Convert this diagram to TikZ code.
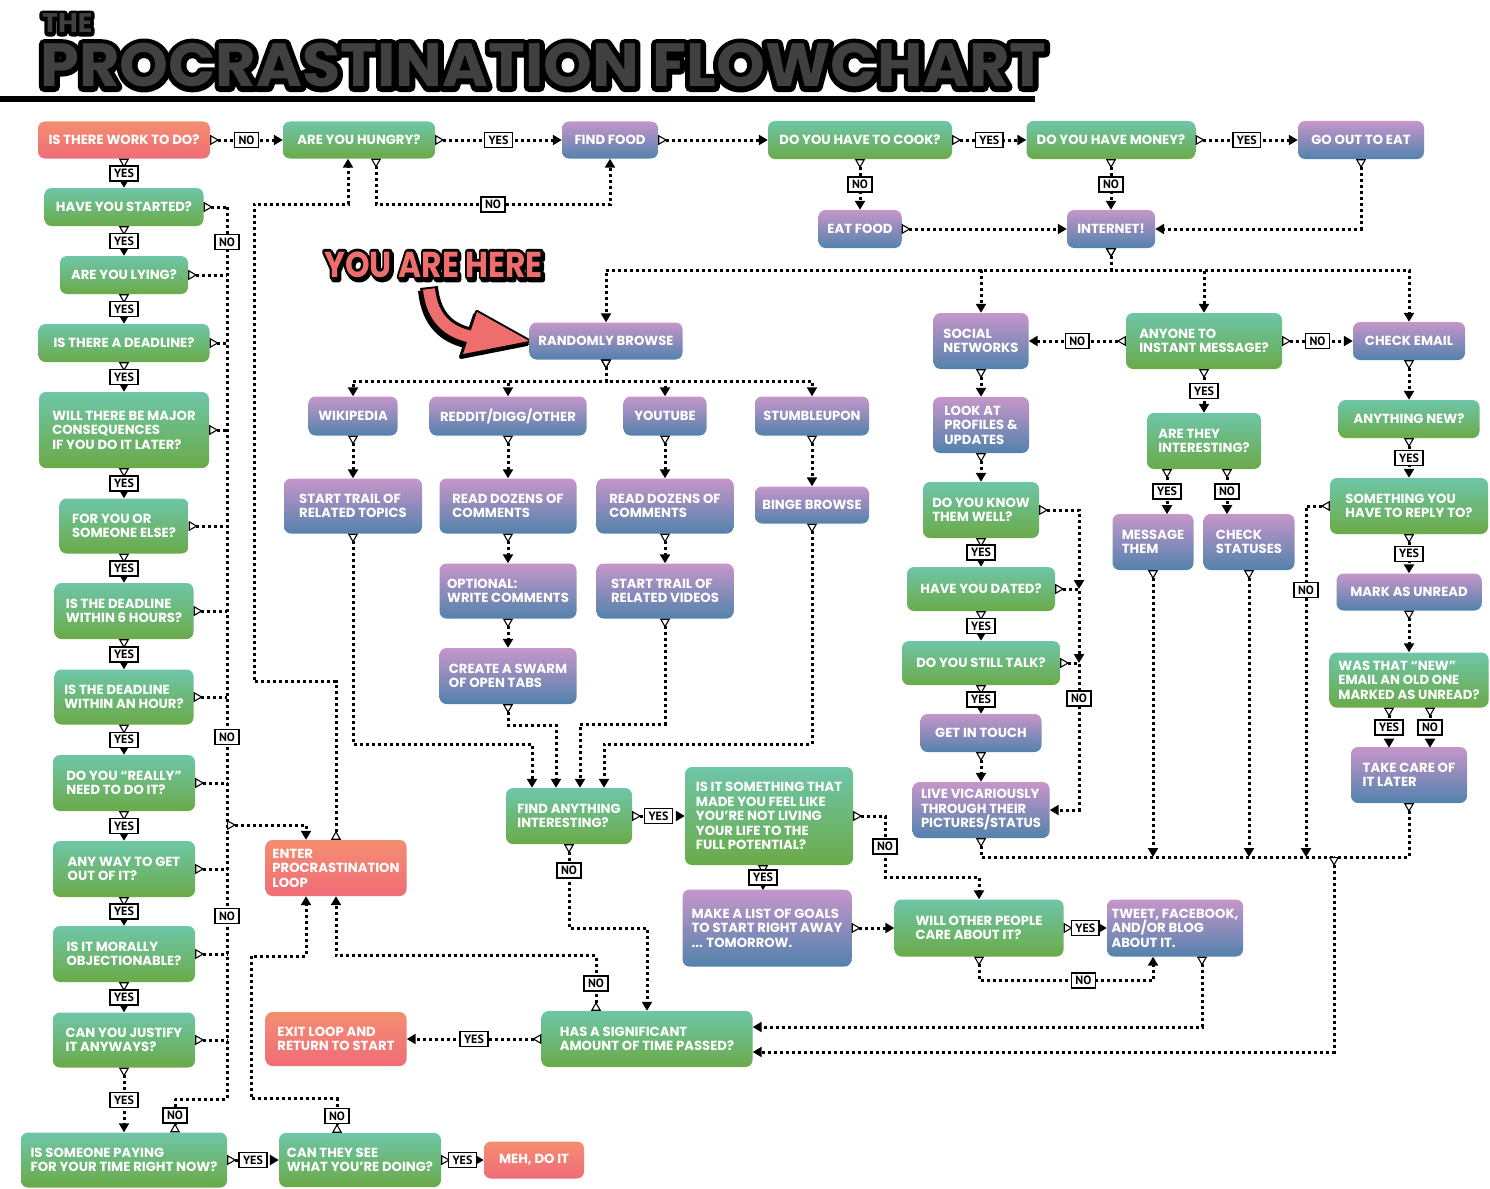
\documentclass[tikz,border=0pt]{standalone}
\usepackage{fontspec}
\setmainfont{Poppins}
\newfontfamily\ynfont{PT Sans}
\usetikzlibrary{arrows.meta}

\definecolor{greentop}{RGB}{110,198,168}
\definecolor{greenbot}{RGB}{106,170,72}
\definecolor{purptop}{RGB}{198,150,202}
\definecolor{purpbot}{RGB}{82,130,172}
\definecolor{redtop}{RGB}{244,142,112}
\definecolor{redbot}{RGB}{240,108,120}
\definecolor{titlegray}{RGB}{64,64,64}
\definecolor{heresalmon}{RGB}{238,110,110}

% outlined text: stroke only, black, given width
\newcommand\strokedtext[2]{\special{pdf:literal direct 1 Tr #1 w 1 j 0 0 0 RG}#2\special{pdf:literal direct 0 Tr}}

\tikzset{
  box/.style={rounded corners=7pt, text=white, align=left, inner sep=3pt, font=\bfseries\fontsize{13.2}{14.5}\selectfont},
  askbox/.style={box, top color=greentop, bottom color=greenbot},
  actbox/.style={box, top color=purptop, bottom color=purpbot},
  endbox/.style={box, top color=redtop, bottom color=redbot},
  sz/.style 2 args={minimum width=#1pt, minimum height=#2pt},
  dots/.style={line width=3pt, dash pattern=on 3pt off 3pt},
  flow/.style={dots, {Triangle[reversed, fill=white, line width=1.1pt, length=9pt, width=10pt]}-{Triangle[length=9pt, width=10pt]}},
  feed/.style={dots, {Triangle[reversed, fill=white, line width=1.1pt, length=9pt, width=10pt]}-},
  yn/.style={draw=black, solid, fill=white, text=black, line width=1.5pt, inner sep=1pt, inner xsep=4pt, minimum height=15pt, font=\ynfont\bfseries\fontsize{12}{12}\selectfont},
  titletext/.style={anchor=base west, inner sep=0pt, xscale=1.02, text=titlegray, font=\bfseries\fontsize{61}{61}\selectfont},
  thetext/.style={anchor=base west, inner sep=0pt, text=titlegray, font=\bfseries\fontsize{27}{27}\selectfont},
  heretext/.style={anchor=base west, inner sep=0pt, xscale=0.87, text=heresalmon, font=\bfseries\fontsize{36}{36}\selectfont},
}

\begin{document}
\begin{tikzpicture}[x=1pt, y=-1pt]
  \useasboundingbox (0,0) rectangle (1490,1188);
  \fill[white] (0,0) rectangle (1490,1188);

  % title
  \node[titletext, text=black] (titleline) at (40,87) {\strokedtext{10}{PROCRASTINATION FLOWCHART}};
  \node[titletext] (title) at (40,87) {PROCRASTINATION FLOWCHART};
  \node[thetext, text=black] (theline) at (42,33) {\strokedtext{7}{THE}};
  \node[thetext] (the) at (42,33) {THE};
  \fill (0,96) rectangle (1035,102);

  % you are here
  \node[heretext, text=black] (hereshadow) at (325.5,279.5) {\strokedtext{5.5}{YOU ARE HERE}};
  \node[heretext, text=black] (hereline) at (324,277) {\strokedtext{5.5}{YOU ARE HERE}};
  \node[heretext] (here) at (324,277) {YOU ARE HERE};
  \begin{scope}[shift={(-2,3)}]
    \draw[line width=18pt, black] (429,287) .. controls (432,318) and (448,334) .. (478,338);
    \filldraw[black, line width=4pt, line join=round] (477,312) -- (529,341) -- (463,354) -- cycle;
  \end{scope}
  \draw[line width=18pt, black] (429,287) .. controls (432,318) and (448,334) .. (478,338);
  \filldraw[black, line width=4pt, line join=round] (477,312) -- (529,341) -- (463,354) -- cycle;
  \draw[line width=12pt, heresalmon] (429,289) .. controls (432,318) and (448,334) .. (478,338);
  \fill[heresalmon] (477,312) -- (529,341) -- (463,354) -- cycle;

  % left column
  \node[endbox, sz={172}{37}] (work) at (124,140) {IS THERE WORK TO DO?};
  \node[askbox, sz={159}{38}] (started) at (124,207) {HAVE YOU STARTED?};
  \node[askbox, sz={128}{38}] (lying) at (124,275) {ARE YOU LYING?};
  \node[askbox, sz={171}{38}] (deadline) at (124,343) {IS THERE A DEADLINE?};
  \node[askbox, sz={170}{76}] (conseq) at (124,430) {WILL THERE BE MAJOR\\CONSEQUENCES\\IF YOU DO IT LATER?};
  \node[askbox, sz={129}{55}] (foryou) at (124,526) {FOR YOU OR\\SOMEONE ELSE?};
  \node[askbox, sz={139}{56}] (six) at (124,611) {IS THE DEADLINE\\WITHIN 6 HOURS?};
  \node[askbox, sz={139}{55}] (hour) at (124,697) {IS THE DEADLINE\\WITHIN AN HOUR?};
  \node[askbox, sz={142}{56}] (really) at (124,783) {DO YOU “REALLY”\\NEED TO DO IT?};
  \node[askbox, sz={142}{56}] (getout) at (124,869) {ANY WAY TO GET\\OUT OF IT?};
  \node[askbox, sz={142}{56}] (moral) at (124,954) {IS IT MORALLY\\OBJECTIONABLE?};
  \node[askbox, sz={142}{55}] (justify) at (124,1040) {CAN YOU JUSTIFY\\IT ANYWAYS?};
  \node[askbox, sz={206}{55}] (paying) at (124,1160) {IS SOMEONE PAYING\\FOR YOUR TIME RIGHT NOW?};
  \node[askbox, sz={162}{54}] (cansee) at (360,1160) {CAN THEY SEE\\WHAT YOU’RE DOING?};
  \node[endbox, sz={100}{37}] (meh) at (534,1160) {MEH, DO IT};

  % food row
  \node[askbox, sz={152}{37}] (hungry) at (359,140) {ARE YOU HUNGRY?};
  \node[actbox, sz={96}{37}] (findfood) at (610,140) {FIND FOOD};
  \node[askbox, sz={184}{38}] (cook) at (860,140) {DO YOU HAVE TO COOK?};
  \node[askbox, sz={169}{38}] (money) at (1111,140) {DO YOU HAVE MONEY?};
  \node[actbox, sz={126}{38}] (goout) at (1361,140) {GO OUT TO EAT};
  \node[actbox, sz={83}{38}] (eatfood) at (860,229) {EAT FOOD};
  \node[actbox, sz={88}{38}] (internet) at (1111,229) {INTERNET!};

  % browsing
  \node[actbox, sz={153}{37}] (browse) at (606,341) {RANDOMLY BROWSE};
  \node[actbox, sz={89}{39}] (wiki) at (353,416) {WIKIPEDIA};
  \node[actbox, sz={157}{39}] (reddit) at (508,416) {REDDIT/DIGG/OTHER};
  \node[actbox, sz={83}{39}] (youtube) at (665,416) {YOUTUBE};
  \node[actbox, sz={114}{39}] (stumble) at (812,416) {STUMBLEUPON};
  \node[actbox, sz={138}{55}] (topics) at (353,506) {START TRAIL OF\\RELATED TOPICS};
  \node[actbox, sz={137}{55}] (readreddit) at (508,506) {READ DOZENS OF\\COMMENTS};
  \node[actbox, sz={137}{55}] (readyt) at (665,506) {READ DOZENS OF\\COMMENTS};
  \node[actbox, sz={114}{37}] (binge) at (812,505) {BINGE BROWSE};
  \node[actbox, sz={137}{55}] (optional) at (508,591) {OPTIONAL:\\WRITE COMMENTS};
  \node[actbox, sz={137}{55}] (videos) at (665,591) {START TRAIL OF\\RELATED VIDEOS};
  \node[actbox, sz={137}{56}] (swarm) at (508,676) {CREATE A SWARM\\OF OPEN TABS};
  \node[askbox, sz={126}{56}] (find) at (569,816) {FIND ANYTHING\\INTERESTING?};
  \node[askbox, sz={168}{98}] (potential) at (769,816) {IS IT SOMETHING THAT\\MADE YOU FEEL LIKE\\YOU’RE NOT LIVING\\YOUR LIFE TO THE\\FULL POTENTIAL?};
  \node[actbox, sz={169}{77}] (goals) at (767,928) {MAKE A LIST OF GOALS\\TO START RIGHT AWAY\\... TOMORROW.};
  \node[askbox, sz={169}{57}] (others) at (979,928) {WILL OTHER PEOPLE\\CARE ABOUT IT?};
  \node[actbox, sz={136}{57}] (tweet) at (1175,928) {TWEET, FACEBOOK,\\AND/OR BLOG\\ABOUT IT.};
  \node[askbox, sz={211}{56}] (passed) at (647,1039) {HAS A SIGNIFICANT\\AMOUNT OF TIME PASSED?};
  \node[endbox, sz={141}{54}] (exitloop) at (336,1039) {EXIT LOOP AND\\RETURN TO START};
  \node[endbox, sz={141}{56}] (loop) at (336,868) {ENTER\\PROCRASTINATION\\LOOP};

  % social, im, email
  \node[actbox, sz={95}{56}] (social) at (981,341) {SOCIAL\\NETWORKS};
  \node[askbox, sz={156}{56}] (im) at (1204,341) {ANYONE TO\\INSTANT MESSAGE?};
  \node[actbox, sz={112}{38}] (email) at (1409,341) {CHECK EMAIL};
  \node[actbox, sz={96}{56}] (profiles) at (981,425) {LOOK AT\\PROFILES \&\\UPDATES};
  \node[askbox, sz={116}{56}] (knowwell) at (981,510) {DO YOU KNOW\\THEM WELL?};
  \node[askbox, sz={148}{44}] (dated) at (981,589) {HAVE YOU DATED?};
  \node[askbox, sz={158}{44}] (stilltalk) at (981,663) {DO YOU STILL TALK?};
  \node[actbox, sz={121}{38}] (touch) at (981,733) {GET IN TOUCH};
  \node[actbox, sz={137}{56}] (vicarious) at (981,810) {LIVE VICARIOUSLY\\THROUGH THEIR\\PICTURES/STATUS};
  \node[askbox, sz={114}{56}] (interesting) at (1204,441) {ARE THEY\\INTERESTING?};
  \node[actbox, sz={81}{56}] (message) at (1153,542) {MESSAGE\\THEM};
  \node[actbox, sz={91}{56}] (statuses) at (1249,542) {CHECK\\STATUSES};
  \node[askbox, sz={141}{38}] (anynew) at (1409,419) {ANYTHING NEW?};
  \node[askbox, sz={158}{56}] (reply) at (1409,506) {SOMETHING YOU\\HAVE TO REPLY TO?};
  \node[actbox, sz={145}{37}] (unread) at (1409,592) {MARK AS UNREAD};
  \node[askbox, sz={159}{55}] (oldone) at (1409,680) {WAS THAT “NEW”\\EMAIL AN OLD ONE\\MARKED AS UNREAD?};
  \node[actbox, sz={116}{56}] (later) at (1409,775) {TAKE CARE OF\\IT LATER};

  % left column connectors
  \foreach \a/\b in {work/started, started/lying, lying/deadline, deadline/conseq, conseq/foryou, foryou/six, six/hour, hour/really, really/getout, getout/moral, moral/justify, justify/paying}
    \draw[flow] (\a.south) -- node[yn] (y\b) {YES} (\b.north);
  \coordinate (lbus) at (227,825);
  \foreach \q in {started, lying, deadline, conseq, foryou, six, hour, really, getout, moral, justify}
    \draw[feed] (\q.east) -- (\q.east -| lbus);
  \draw[dots] (started.east -| lbus) -- (227,1099) -- (175,1099);
  \draw[feed] ([xshift=51pt]paying.north) -- node[yn] (npaying) {NO} (175,1099);
  \node[yn] (nbus1) at (227,242) {NO};
  \node[yn] (nbus2) at (227,737) {NO};
  \node[yn] (nbus3) at (227,916) {NO};
  \draw[flow] (lbus) -| ([xshift=-30pt]loop.north);
  \draw[flow] (paying.east) -- node[yn] (ypaying) {YES} (cansee.west);
  \draw[flow] (cansee.east) -- node[yn] (ycansee) {YES} (meh.west);
  \draw[flow] ([xshift=-23pt]cansee.north) -- node[yn] (ncansee) {NO} ++(0,-34) -| (251,956) -| ([xshift=-30pt]loop.south);
  \draw[flow] (loop.north) -- ++(0,-158) -| (254,204) -| ([xshift=-11pt]hungry.south);

  % food connectors
  \draw[flow] (work.east) -- node[yn] (nwork) {NO} (hungry.west);
  \draw[flow] (hungry.east) -- node[yn] (yhungry) {YES} (findfood.west);
  \draw[flow] ([xshift=17pt]hungry.south) -- ++(0,46) -| node[yn, pos=0.25] (nhungry) {NO} (findfood.south);
  \draw[flow] (findfood.east) -- (cook.west);
  \draw[flow] (cook.east) -- node[yn] (ycook) {YES} (money.west);
  \draw[flow] (money.east) -- node[yn] (ymoney) {YES} (goout.west);
  \draw[flow] (cook.south) -- node[yn] (ncook) {NO} (eatfood.north);
  \draw[flow] (money.south) -- node[yn] (nmoney) {NO} (internet.north);
  \draw[flow] (goout.south) |- (internet.east);
  \draw[flow] (eatfood.east) -- (internet.west);
  \foreach \t in {browse, social, im, email}
    \draw[flow] (internet.south) -- ++(0,22) -| (\t.north);

  % browsing connectors
  \foreach \t in {wiki, reddit, youtube, stumble}
    \draw[flow] (browse.south) -- ++(0,22) -| (\t.north);
  \foreach \a/\b in {wiki/topics, reddit/readreddit, readreddit/optional, optional/swarm, youtube/readyt, readyt/videos, stumble/binge, social/profiles, profiles/knowwell, touch/vicarious, email/anynew, unread/oldone}
    \draw[flow] (\a.south) -- (\b.north);
  \draw[flow] (topics.south) -- ++(0,211) -| ([xshift=-37pt]find.north);
  \draw[flow] (swarm.south) -- ++(0,21) -| ([xshift=-13pt]find.north);
  \draw[flow] (videos.south) -- ++(0,106) -| ([xshift=11pt]find.north);
  \draw[flow] (binge.south) -- ++(0,221) -| ([xshift=35pt]find.north);
  \draw[flow] (find.east) -- node[yn] (yfind) {YES} (potential.west);
  \draw[flow] (find.south) -- node[yn, pos=0.31] (nfind) {NO} ++(0,84) -| (passed.north);
  \draw[flow] ([xshift=-6pt]potential.south) -- node[yn] (ypotential) {YES} ++(0,25);
  \draw[flow] (potential.east) -| node[yn, pos=0.75] (npotential) {NO} (885,877) -| (others.north);
  \draw[flow] (goals.east) -- (others.west);
  \draw[flow] (others.east) -- node[yn] (yothers) {YES} (tweet.west);
  \draw[flow] (others.south) -- ++(0,24) -| node[yn, pos=0.3] (nothers) {NO} ([xshift=-22pt]tweet.south);
  \draw[flow] ([xshift=27pt]tweet.south) |- ([yshift=12pt]passed.east);
  \draw[flow] (passed.west) -- node[yn] (ypassed) {YES} (exitloop.east);
  \draw[flow] ([xshift=-51pt]passed.north) -- node[yn] (npassed) {NO} ++(0,-55) -| (loop.south);

  % social, im, email connectors
  \foreach \a/\b in {knowwell/dated, dated/stilltalk, stilltalk/touch, im/interesting, anynew/reply, reply/unread}
    \draw[flow] (\a.south) -- node[yn] (y\b) {YES} (\b.north);
  \draw[flow] (knowwell.east) -| (1079,589);
  \draw[flow] (dated.east) -| (1079,663);
  \draw[flow] (stilltalk.east) -| node[yn, pos=0.62] (nstilltalk) {NO} (1079,810) -- (vicarious.east);
  \draw[flow] (im.west) -- node[yn] (nim1) {NO} (social.east);
  \draw[flow] (im.east) -- node[yn] (nim2) {NO} (email.west);
  \draw[flow] ([xshift=-37pt]interesting.south) -- node[yn] (yinteresting) {YES} ++(0,45);
  \draw[flow] ([xshift=23pt]interesting.south) -- node[yn] (ninteresting) {NO} ++(0,45);
  \draw[flow] ([xshift=-20pt]oldone.south) -- node[yn] (yoldone) {YES} ++(0,40);
  \draw[flow] ([xshift=21pt]oldone.south) -- node[yn] (noldone) {NO} ++(0,40);

  % right bus
  \coordinate (rbus) at (1334,857);
  \draw[feed] (vicarious.south) |- (rbus);
  \draw[feed] (later.south) |- (rbus);
  \draw[flow] (message.south) -- (message.south |- rbus);
  \draw[flow] (statuses.south) -- (statuses.south |- rbus);
  \draw[flow] (reply.west) -| node[yn, pos=0.62] (nreply) {NO} (1306,857);
  \draw[flow] (rbus) |- ([yshift=-13pt]passed.east);
\end{tikzpicture}
\end{document}
